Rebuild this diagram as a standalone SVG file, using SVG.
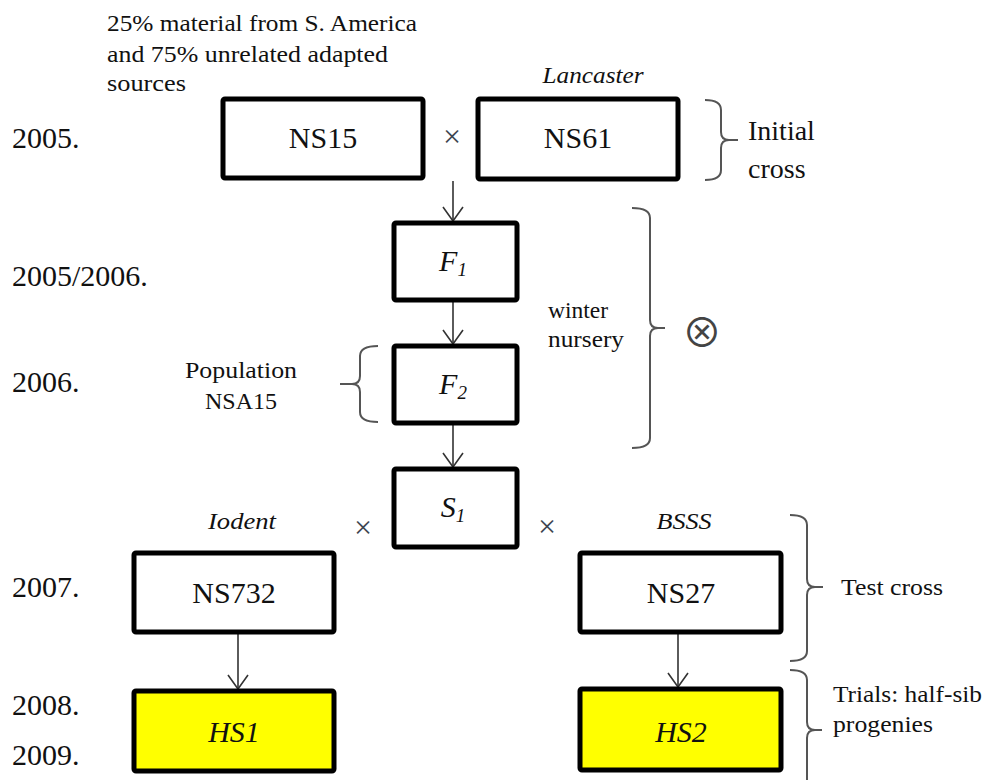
<svg xmlns="http://www.w3.org/2000/svg" width="983" height="780" viewBox="0 0 983 780">
<style>
  text { font-family: "Liberation Serif", "Times New Roman", "DejaVu Serif", serif; fill: #111; }
  .yr { font-size: 30px; }
  .lbl { font-size: 30px; text-anchor: middle; }
  .it { font-style: italic; }
  .sm { font-size: 23px; }
  .big { font-size: 28px; }
  .tag { font-size: 23px; font-style: italic; text-anchor: middle; }
  .box { fill: #fff; stroke: #000; stroke-width: 5; }
  .hs { fill: #ffff00; stroke: #000; stroke-width: 5; }
  .brace { fill: none; stroke: #555; stroke-width: 2; }
  .arrow { stroke: #333; stroke-width: 1.6; fill: none; marker-end: url(#ah); }
  .x { font-size: 32px; fill: #3c4650; text-anchor: middle; }
  .otimes { font-family: "Noto Sans CJK JP", "DejaVu Sans", sans-serif; font-size: 40px; text-anchor: middle; fill: #444; }
</style>
<defs>
  <marker id="ah" markerUnits="userSpaceOnUse" viewBox="0 0 16 22" refX="15" refY="11" markerWidth="16" markerHeight="22" orient="auto">
    <path d="M1,1 L15,11 L1,21" fill="none" stroke="#333" stroke-width="1.6"/>
  </marker>
</defs>

<rect width="983" height="780" fill="#fff"/>

<!-- annotations -->
<g id="notes">
  <text class="sm" x="107" y="31" textLength="310" lengthAdjust="spacingAndGlyphs">25% material from S. America</text>
  <text class="sm" x="107" y="62" textLength="281" lengthAdjust="spacingAndGlyphs">and 75% unrelated adapted</text>
  <text class="sm" x="107" y="91" textLength="79" lengthAdjust="spacingAndGlyphs">sources</text>
  <text class="yr" x="12" y="148">2005.</text>
  <text class="yr" x="12" y="286">2005/2006.</text>
  <text class="yr" x="12" y="392">2006.</text>
  <text class="yr" x="12" y="597">2007.</text>
  <text class="yr" x="12" y="715">2008.</text>
  <text class="yr" x="12" y="765">2009.</text>
  <text class="tag" x="593" y="83" textLength="101" lengthAdjust="spacingAndGlyphs">Lancaster</text>
  <text class="tag" x="242" y="529" textLength="68" lengthAdjust="spacingAndGlyphs">Iodent</text>
  <text class="tag" x="684" y="529" textLength="55" lengthAdjust="spacingAndGlyphs">BSSS</text>
  <text class="x" x="452" y="147">×</text>
  <text class="x" x="363" y="538">×</text>
  <text class="x" x="547" y="537">×</text>
  <text class="big" x="748" y="140">Initial</text>
  <text class="big" x="748" y="178">cross</text>
  <text class="sm" x="548" y="318" textLength="60" lengthAdjust="spacingAndGlyphs">winter</text>
  <text class="sm" x="548" y="347" textLength="76" lengthAdjust="spacingAndGlyphs">nursery</text>
  <text class="otimes" x="702" y="347">⊗</text>
  <text class="sm" x="185" y="378" textLength="112" lengthAdjust="spacingAndGlyphs">Population</text>
  <text class="sm" x="205" y="409" textLength="72" lengthAdjust="spacingAndGlyphs">NSA15</text>
  <text class="sm" x="841" y="595" textLength="102" lengthAdjust="spacingAndGlyphs">Test cross</text>
  <text class="sm" x="833" y="702" textLength="149" lengthAdjust="spacingAndGlyphs">Trials: half-sib</text>
  <text class="sm" x="833" y="732" textLength="100" lengthAdjust="spacingAndGlyphs">progenies</text>
</g>

<!-- braces -->
<g id="braces">
  <path class="brace" d="M705,100 Q721,100 721,110 V132 Q721,140 729,140 H738 M729,140 Q721,140 721,148 V170 Q721,180 705,180"/>
  <path class="brace" d="M632,208 Q650,208 650,218 V320 Q650,328 658,328 H665 M658,328 Q650,328 650,336 V438 Q650,448 632,448"/>
  <path class="brace" d="M378,346 Q360,346 360,356 V376 Q360,384 352,384 H340 M352,384 Q360,384 360,392 V412 Q360,422 378,422"/>
  <path class="brace" d="M790,515 Q807,515 807,525 V579 Q807,587 815,587 H823 M815,587 Q807,587 807,595 V651 Q807,661 790,661"/>
  <path class="brace" d="M790,670 Q807,670 807,680 V722 Q807,730 815,730 H822 M815,730 Q807,730 807,738 V790"/>
</g>

<!-- connectors -->
<g id="connectors">
  <line class="arrow" x1="453" y1="181" x2="453" y2="221"/>
  <line class="arrow" x1="453" y1="302" x2="453" y2="344"/>
  <line class="arrow" x1="453" y1="425" x2="453" y2="467"/>
  <line class="arrow" x1="238" y1="634" x2="238" y2="689"/>
  <line class="arrow" x1="678" y1="634" x2="678" y2="687"/>
</g>

<g id="NS15">
  <rect class="box" x="223" y="99" width="200" height="79" rx="2"/>
  <text class="lbl" x="323" y="148">NS15</text>
</g>
<g id="NS61">
  <rect class="box" x="478" y="99" width="200" height="80" rx="2"/>
  <text class="lbl" x="578" y="148">NS61</text>
</g>
<g id="F1">
  <rect class="box" x="394" y="223" width="123" height="77" rx="2"/>
  <text x="453" y="271" style="font-size:30px;text-anchor:middle"><tspan font-style="italic">F</tspan><tspan font-style="italic" font-size="19" dy="5">1</tspan></text>
</g>
<g id="F2">
  <rect class="box" x="394" y="346" width="123" height="77" rx="2"/>
  <text x="453" y="394" style="font-size:30px;text-anchor:middle"><tspan font-style="italic">F</tspan><tspan font-style="italic" font-size="19" dy="5">2</tspan></text>
</g>
<g id="S1">
  <rect class="box" x="394" y="469" width="123" height="78" rx="2"/>
  <text x="453" y="517" style="font-size:30px;text-anchor:middle"><tspan font-style="italic">S</tspan><tspan font-style="italic" font-size="19" dy="5">1</tspan></text>
</g>
<g id="NS732">
  <rect class="box" x="134" y="553" width="200" height="79" rx="2"/>
  <text class="lbl" x="234" y="603">NS732</text>
</g>
<g id="NS27">
  <rect class="box" x="580" y="553" width="201" height="79" rx="2"/>
  <text class="lbl" x="681" y="603">NS27</text>
</g>
<g id="HS1">
  <rect class="hs" x="134" y="691" width="200" height="80" rx="2"/>
  <text class="lbl it" x="234" y="742">HS1</text>
</g>
<g id="HS2">
  <rect class="hs" x="580" y="689" width="201" height="81" rx="2"/>
  <text class="lbl it" x="681" y="742">HS2</text>
</g>
</svg>
